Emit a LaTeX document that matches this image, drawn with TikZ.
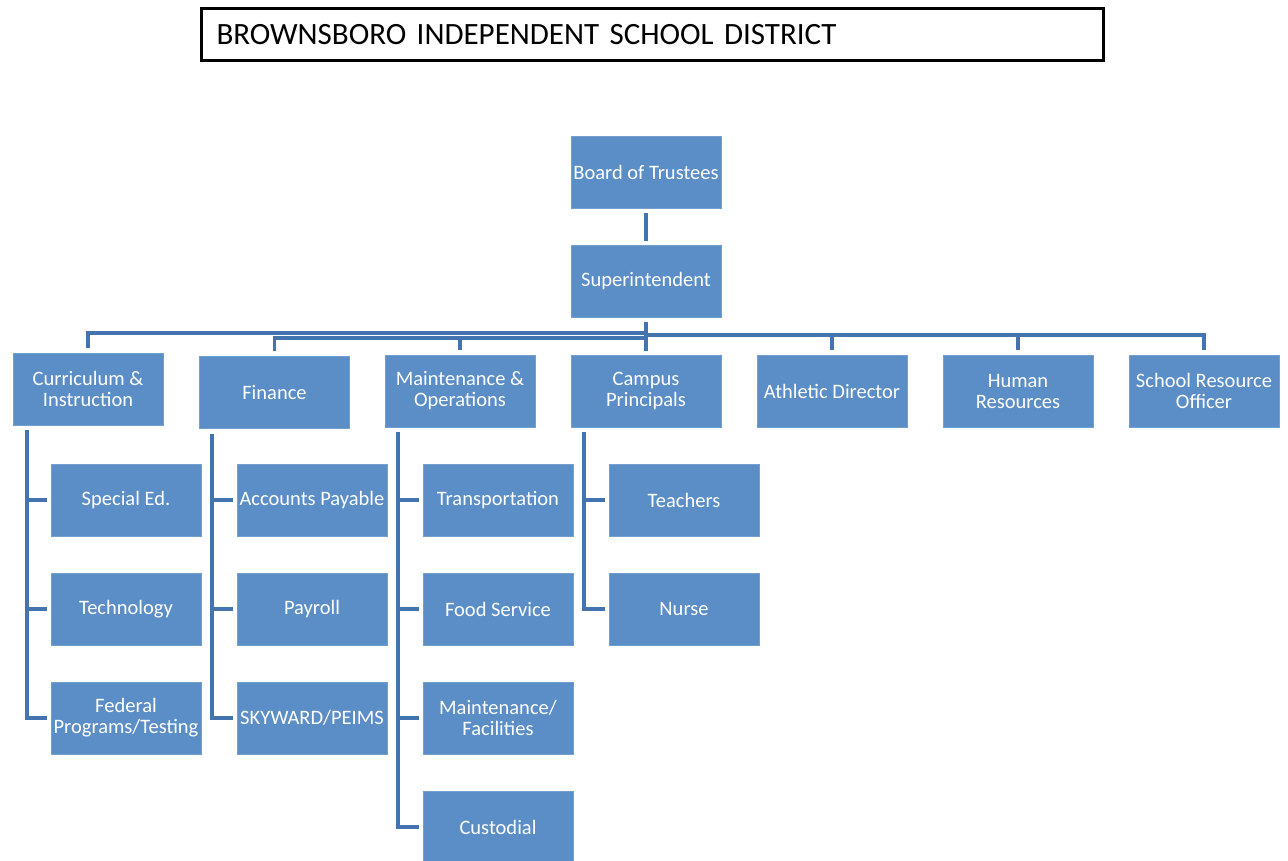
\documentclass[tikz,border=0pt]{standalone}
\usepackage{fontspec}
\setmainfont{Carlito}
\definecolor{boxblue}{RGB}{91,142,199}
\definecolor{lineblue}{RGB}{68,116,176}
\begin{document}
\begin{tikzpicture}[x=1pt,y=-1pt,
  orgbox/.style={fill=boxblue, draw=boxblue!85!white, line width=0.8pt, text=white, minimum width=150pt, minimum height=72pt, inner sep=0pt, align=center, font=\fontsize{20.5}{21}\selectfont},
  conn/.style={draw=lineblue, line width=3.5pt}]
\useasboundingbox (0,0) rectangle (1288,861);
% title
\node[draw=black, line width=3pt, minimum width=902pt, minimum height=52pt, anchor=north west, inner xsep=14pt, text width=872pt, align=left, font=\fontsize{31}{33}\selectfont] (title) at (200,7) {BROWNSBORO INDEPENDENT SCHOOL DISTRICT};
% top
\node[orgbox] (bot) at (646,172.5) {Board of Trustees};
\node[orgbox] (sup) at (646,281.5) {Superintendent};
% level 2
\node[orgbox] (cur) at (88,389) {Curriculum \&\\Instruction};
\node[orgbox] (fin) at (274.5,392.5) {Finance};
\node[orgbox] (mai) at (460,391) {Maintenance \&\\Operations};
\node[orgbox] (cam) at (646,391) {Campus\\Principals};
\node[orgbox] (ath) at (832,391) {Athletic Director};
\node[orgbox] (hum) at (1018,391) {Human\\Resources};
\node[orgbox] (sro) at (1204,391) {School Resource\\Officer};
% level 3
\node[orgbox] (spe) at (126,500) {Special Ed.};
\node[orgbox] (tec) at (126,609) {Technology};
\node[orgbox] (fed) at (126,718) {Federal\\Programs/Testing};
\node[orgbox] (acc) at (312,500) {Accounts Payable};
\node[orgbox] (pay) at (312,609) {Payroll};
\node[orgbox] (sky) at (312,718) {SKYWARD/PEIMS};
\node[orgbox] (tra) at (498,500) {Transportation};
\node[orgbox] (foo) at (498,609) {Food Service};
\node[orgbox] (fac) at (498,718) {Maintenance/\\Facilities};
\node[orgbox] (cus) at (498,827) {Custodial};
\node[orgbox] (tea) at (684,500) {Teachers};
\node[orgbox] (nur) at (684,609) {Nurse};
% top connectors
\draw[conn, shorten <=4pt, shorten >=4pt] (bot.south) -- (sup.south |- sup.north);
\draw[conn, shorten <=4pt, shorten >=4pt] (sup.south) -- (cam.north);
% bus
\draw[conn] (sup.south |- 0,333) -| ([yshift=5pt]cur.north);
\draw[conn] (sup.south |- 0,338) -| ([yshift=5pt]fin.north);
\draw[conn] (mai.north |- 0,338) -- ([yshift=5pt]mai.north);
\draw[conn] (sup.south |- 0,335) -| ([yshift=5pt]sro.north);
\draw[conn] (ath.north |- 0,335) -- ([yshift=5pt]ath.north);
\draw[conn] (hum.north |- 0,335) -- ([yshift=5pt]hum.north);
% trunks
\coordinate (curT) at (27,430);
\coordinate (finT) at (212,434);
\coordinate (maiT) at (398,432);
\coordinate (camT) at (584,432);
\draw[conn] (curT) |- ([xshift=-4pt]fed.west);
\draw[conn] (curT |- spe.west) -- ([xshift=-4pt]spe.west);
\draw[conn] (curT |- tec.west) -- ([xshift=-4pt]tec.west);
\draw[conn] (finT) |- ([xshift=-4pt]sky.west);
\draw[conn] (finT |- acc.west) -- ([xshift=-4pt]acc.west);
\draw[conn] (finT |- pay.west) -- ([xshift=-4pt]pay.west);
\draw[conn] (maiT) |- ([xshift=-4pt]cus.west);
\draw[conn] (maiT |- tra.west) -- ([xshift=-4pt]tra.west);
\draw[conn] (maiT |- foo.west) -- ([xshift=-4pt]foo.west);
\draw[conn] (maiT |- fac.west) -- ([xshift=-4pt]fac.west);
\draw[conn] (camT) |- ([xshift=-4pt]nur.west);
\draw[conn] (camT |- tea.west) -- ([xshift=-4pt]tea.west);
\end{tikzpicture}
\end{document}
